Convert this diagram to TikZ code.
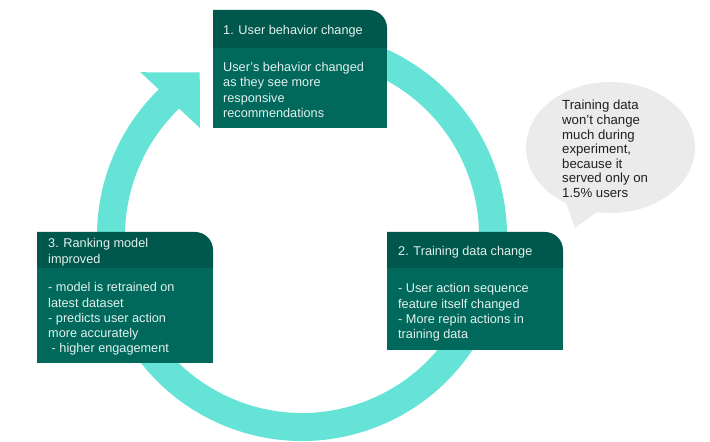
\documentclass[tikz,border=0pt]{standalone}
\usepackage{fontspec}
\setmainfont{Liberation Sans}
\usetikzlibrary{calc}
\definecolor{ringcol}{HTML}{64E3D6}
\definecolor{hdrcol}{HTML}{00574B}
\definecolor{bodycol}{HTML}{00695C}
\definecolor{boxtext}{HTML}{E3F1EE}
\definecolor{bubblecol}{HTML}{EBEBEB}
\definecolor{bubbletext}{HTML}{202020}

\begin{document}
\begin{tikzpicture}[x=1pt,y=1pt,
    hdr/.style={fill=hdrcol},
    bodyfill/.style={fill=bodycol},
    boxlabel/.style={text=boxtext, inner sep=0pt, align=left,
      font=\fontsize{12.7}{15.3}\selectfont},
    bubblelabel/.style={text=bubbletext, inner sep=0pt, align=left,
      font=\fontsize{13.2}{14.6}\selectfont}]
  \useasboundingbox (0,0) rectangle (710,442);
  \coordinate (c) at (302,206);
  % Anneau avec fleche
  \draw[ringcol, line width=28pt] ($(c)+(110:191)$) arc[start angle=110, end angle=-227, radius=191];
  \fill[ringcol] ($(c)+(122:193)$) -- ($(c)+(134.6:230)$) -- ($(c)+(133.4:148.6)$) -- cycle;
  % Etape 1
  \fill[bodyfill] (213,314) rectangle (387,394);
  \fill[hdr] (213,394) -- (213,432) -- (369,432) arc[start angle=90, end angle=0, radius=18] -- (387,394) -- cycle;
  \node[boxlabel, anchor=base west] (title1) at (223,407.5) {1. User behavior change};
  \node[boxlabel, anchor=north west] (text1) at (223,379.7) {User’s behavior changed\\as they see more\\responsive\\recommendations};
  % Etape 2
  \fill[bodyfill] (387,92) rectangle (563,174);
  \fill[hdr] (387,174) -- (387,210) -- (545,210) arc[start angle=90, end angle=0, radius=18] -- (563,174) -- cycle;
  \node[boxlabel, anchor=base west] (title2) at (398,186.5) {2. Training data change};
  \node[boxlabel, anchor=north west] (text2) at (398,158.7) {- User action sequence\\feature itself changed\\- More repin actions in\\training data};
  % Etape 3
  \fill[bodyfill] (37,79) rectangle (213,174);
  \fill[hdr] (37,174) -- (37,210) -- (195,210) arc[start angle=90, end angle=0, radius=18] -- (213,174) -- cycle;
  \node[boxlabel, anchor=north west] (title3) at (48,203.7) {3. Ranking model\\improved};
  \node[boxlabel, anchor=north west] (text3) at (48,159.7) {- model is retrained on\\latest dataset\\- predicts user action\\more accurately\\\ - higher engagement};
  % Bulle
  \fill[bubblecol] (610.5,294.5) ellipse [x radius=84.5, y radius=65.5];
  \fill[bubblecol] (566,240) -- (575,214) -- (605,236) -- cycle;
  \node[bubblelabel, anchor=north west] (note) at (562,341.8) {Training data\\won’t change\\much during\\experiment,\\because it\\served only on\\1.5\% users};
\end{tikzpicture}
\end{document}
